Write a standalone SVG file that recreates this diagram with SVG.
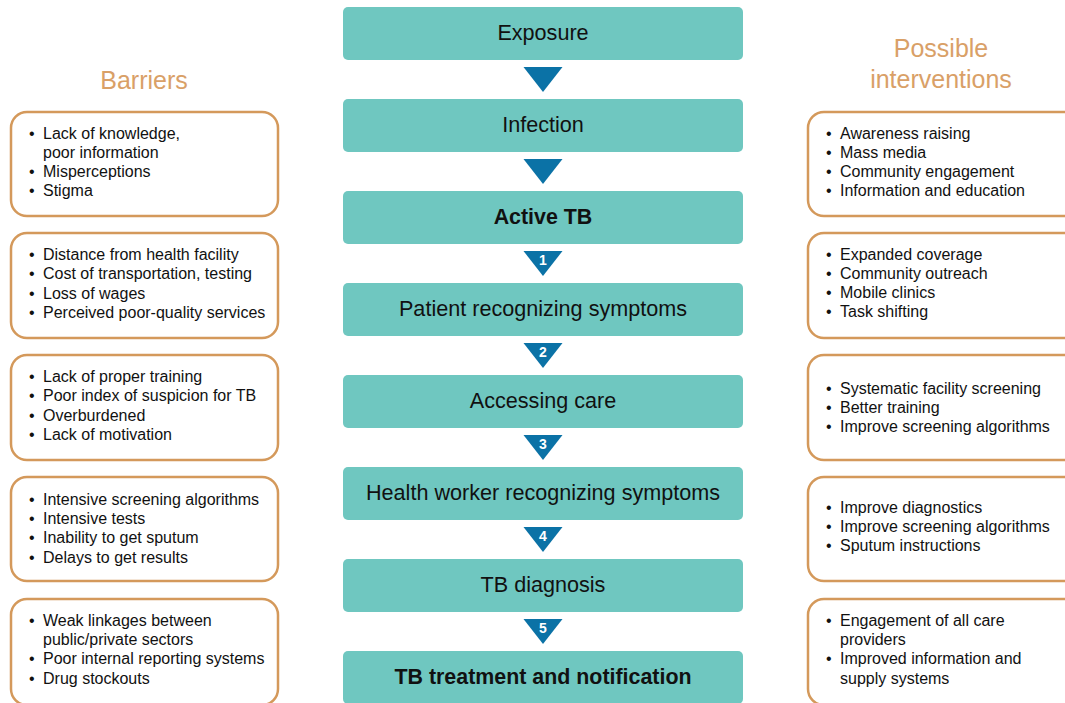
<svg xmlns="http://www.w3.org/2000/svg" width="1065" height="703" viewBox="0 0 1065 703">
<style>
.step{fill:#6fc7c0}
.stxt{font-family:"Liberation Sans",Arial,sans-serif;font-size:21.6px;fill:#111;text-anchor:middle}
.b{font-weight:bold;font-size:21.4px}
.tri{fill:#0b72a6}
.num{font-family:"Liberation Sans",Arial,sans-serif;font-size:14px;font-weight:bold;fill:#fff;text-anchor:middle}
.box{fill:#fff;stroke:#d4995b;stroke-width:2.5}
.t{font-family:"Liberation Sans",Arial,sans-serif;font-size:16px;fill:#111}
.h{font-family:"Liberation Sans",Arial,sans-serif;font-size:25px;fill:#d9a067;text-anchor:middle}
</style>
<rect width="1065" height="703" fill="#fff"/>
<text class="h" x="144" y="89">Barriers</text>
<text class="h" x="941" y="57">Possible</text>
<text class="h" x="941" y="88">interventions</text>

<g id="connectors">
<polygon class="tri" points="523.5,67 562.5,67 543,92"/>
<polygon class="tri" points="523.5,159 562.5,159 543,184"/>
<polygon class="tri" points="523.5,251 562.5,251 543,276"/>
<text class="num" x="543" y="265">1</text>
<polygon class="tri" points="523.5,343 562.5,343 543,368"/>
<text class="num" x="543" y="357">2</text>
<polygon class="tri" points="523.5,435 562.5,435 543,460"/>
<text class="num" x="543" y="449">3</text>
<polygon class="tri" points="523.5,527 562.5,527 543,552"/>
<text class="num" x="543" y="541">4</text>
<polygon class="tri" points="523.5,619 562.5,619 543,644"/>
<text class="num" x="543" y="633">5</text>
</g>

<g id="s1"><rect class="step" x="343" y="7" width="400" height="53" rx="5"/><text class="stxt" x="543" y="40">Exposure</text></g>
<g id="s2"><rect class="step" x="343" y="99" width="400" height="53" rx="5"/><text class="stxt" x="543" y="132">Infection</text></g>
<g id="s3"><rect class="step" x="343" y="191" width="400" height="53" rx="5"/><text class="stxt b" x="543" y="224">Active TB</text></g>
<g id="s4"><rect class="step" x="343" y="283" width="400" height="53" rx="5"/><text class="stxt" x="543" y="316">Patient recognizing symptoms</text></g>
<g id="s5"><rect class="step" x="343" y="375" width="400" height="53" rx="5"/><text class="stxt" x="543" y="408">Accessing care</text></g>
<g id="s6"><rect class="step" x="343" y="467" width="400" height="53" rx="5"/><text class="stxt" x="543" y="500">Health worker recognizing symptoms</text></g>
<g id="s7"><rect class="step" x="343" y="559" width="400" height="53" rx="5"/><text class="stxt" x="543" y="592">TB diagnosis</text></g>
<g id="s8"><rect class="step" x="343" y="651" width="400" height="53" rx="5"/><text class="stxt b" x="543" y="684">TB treatment and notification</text></g>

<g id="barrier1"><rect class="box" x="11" y="112" width="267" height="104" rx="16"/>
<text class="t"><tspan x="29" y="139">•</tspan><tspan x="43" y="139">Lack of knowledge,</tspan><tspan x="43" y="158">poor information</tspan><tspan x="29" y="177">•</tspan><tspan x="43" y="177">Misperceptions</tspan><tspan x="29" y="196">•</tspan><tspan x="43" y="196">Stigma</tspan></text></g>
<g id="barrier2"><rect class="box" x="11" y="233" width="267" height="105" rx="16"/>
<text class="t"><tspan x="29" y="260">•</tspan><tspan x="43" y="260">Distance from health facility</tspan><tspan x="29" y="279">•</tspan><tspan x="43" y="279">Cost of transportation, testing</tspan><tspan x="29" y="299">•</tspan><tspan x="43" y="299">Loss of wages</tspan><tspan x="29" y="318">•</tspan><tspan x="43" y="318">Perceived poor-quality services</tspan></text></g>
<g id="barrier3"><rect class="box" x="11" y="355" width="267" height="105" rx="16"/>
<text class="t"><tspan x="29" y="382">•</tspan><tspan x="43" y="382">Lack of proper training</tspan><tspan x="29" y="401">•</tspan><tspan x="43" y="401">Poor index of suspicion for TB</tspan><tspan x="29" y="421">•</tspan><tspan x="43" y="421">Overburdened</tspan><tspan x="29" y="440">•</tspan><tspan x="43" y="440">Lack of motivation</tspan></text></g>
<g id="barrier4"><rect class="box" x="11" y="477" width="267" height="104" rx="16"/>
<text class="t"><tspan x="29" y="505">•</tspan><tspan x="43" y="505">Intensive screening algorithms</tspan><tspan x="29" y="524">•</tspan><tspan x="43" y="524">Intensive tests</tspan><tspan x="29" y="543">•</tspan><tspan x="43" y="543">Inability to get sputum</tspan><tspan x="29" y="563">•</tspan><tspan x="43" y="563">Delays to get results</tspan></text></g>
<g id="barrier5"><rect class="box" x="11" y="599" width="267" height="106" rx="16"/>
<text class="t"><tspan x="29" y="626">•</tspan><tspan x="43" y="626">Weak linkages between</tspan><tspan x="43" y="645">public/private sectors</tspan><tspan x="29" y="664">•</tspan><tspan x="43" y="664">Poor internal reporting systems</tspan><tspan x="29" y="684">•</tspan><tspan x="43" y="684">Drug stockouts</tspan></text></g>

<g id="intervention1"><rect class="box" x="808" y="112" width="280" height="104" rx="16"/>
<text class="t"><tspan x="826" y="139">•</tspan><tspan x="840" y="139">Awareness raising</tspan><tspan x="826" y="158">•</tspan><tspan x="840" y="158">Mass media</tspan><tspan x="826" y="177">•</tspan><tspan x="840" y="177">Community engagement</tspan><tspan x="826" y="196">•</tspan><tspan x="840" y="196">Information and education</tspan></text></g>
<g id="intervention2"><rect class="box" x="808" y="233" width="280" height="105" rx="16"/>
<text class="t"><tspan x="826" y="260">•</tspan><tspan x="840" y="260">Expanded coverage</tspan><tspan x="826" y="279">•</tspan><tspan x="840" y="279">Community outreach</tspan><tspan x="826" y="298">•</tspan><tspan x="840" y="298">Mobile clinics</tspan><tspan x="826" y="317">•</tspan><tspan x="840" y="317">Task shifting</tspan></text></g>
<g id="intervention3"><rect class="box" x="808" y="355" width="280" height="105" rx="16"/>
<text class="t"><tspan x="826" y="394">•</tspan><tspan x="840" y="394">Systematic facility screening</tspan><tspan x="826" y="413">•</tspan><tspan x="840" y="413">Better training</tspan><tspan x="826" y="432">•</tspan><tspan x="840" y="432">Improve screening algorithms</tspan></text></g>
<g id="intervention4"><rect class="box" x="808" y="477" width="280" height="104" rx="16"/>
<text class="t"><tspan x="826" y="513">•</tspan><tspan x="840" y="513">Improve diagnostics</tspan><tspan x="826" y="532">•</tspan><tspan x="840" y="532">Improve screening algorithms</tspan><tspan x="826" y="551">•</tspan><tspan x="840" y="551">Sputum instructions</tspan></text></g>
<g id="intervention5"><rect class="box" x="808" y="599" width="280" height="106" rx="16"/>
<text class="t"><tspan x="826" y="626">•</tspan><tspan x="840" y="626">Engagement of all care</tspan><tspan x="840" y="645">providers</tspan><tspan x="826" y="664">•</tspan><tspan x="840" y="664">Improved information and</tspan><tspan x="840" y="684">supply systems</tspan></text></g>
</svg>
